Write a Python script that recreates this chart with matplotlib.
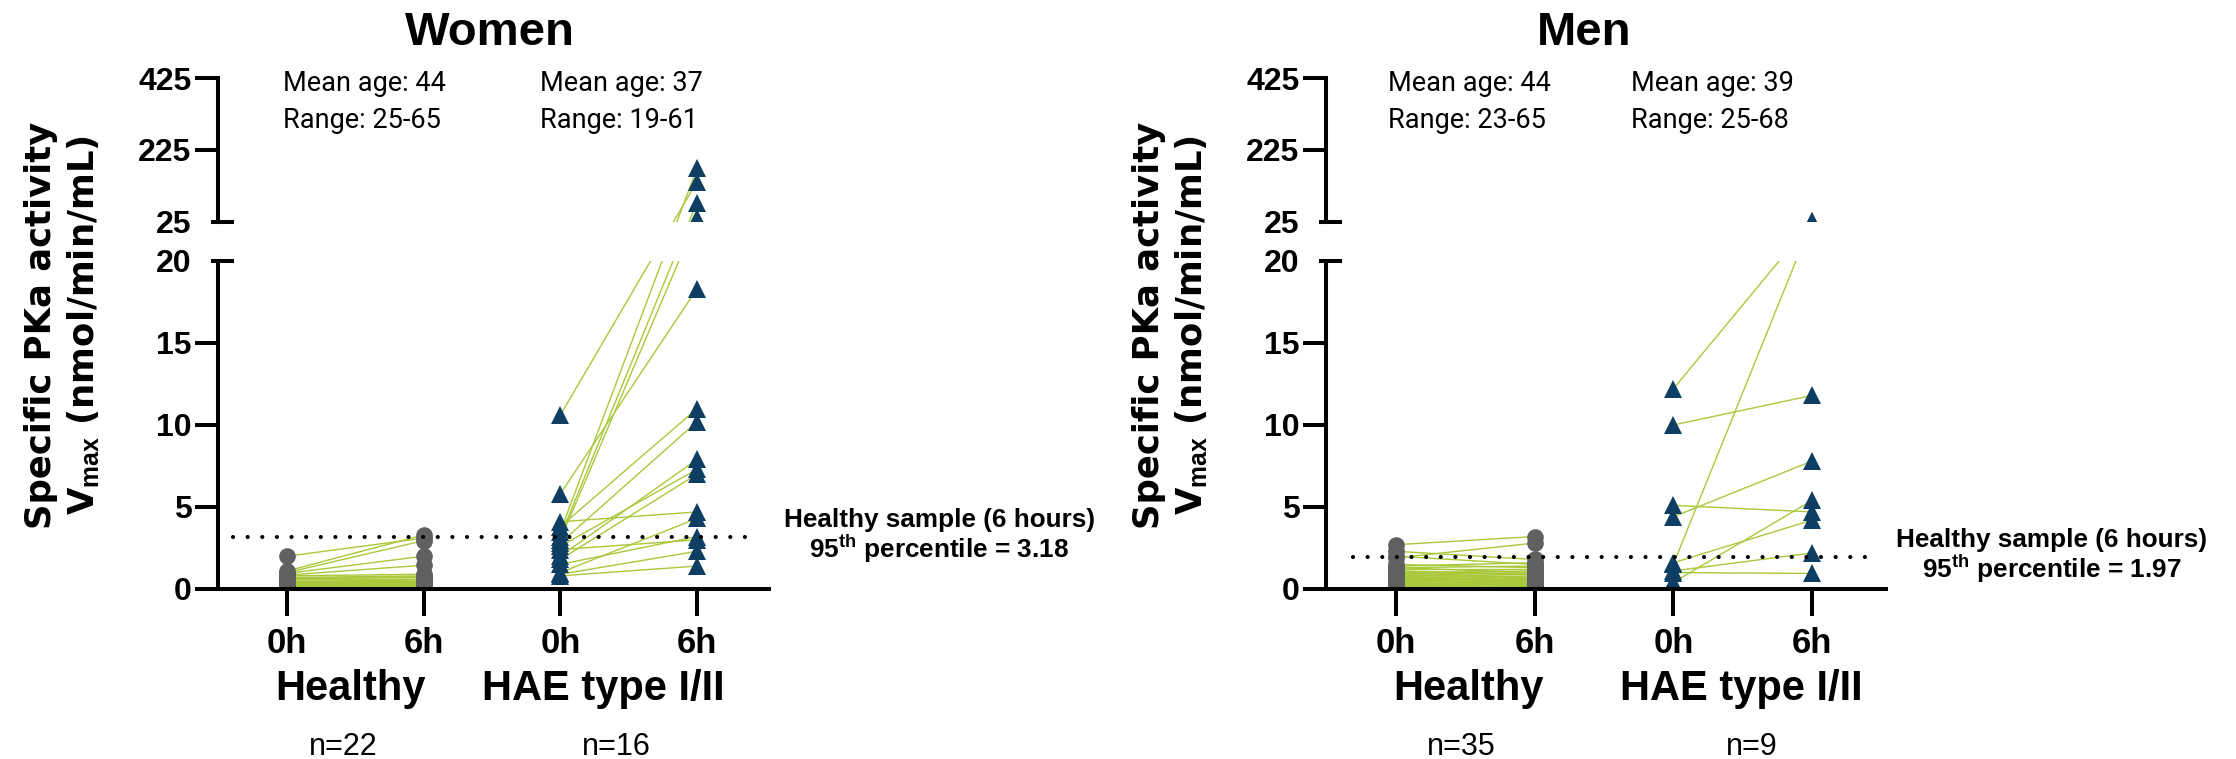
import numpy as np
import matplotlib
matplotlib.use("Agg")
import matplotlib.pyplot as plt
from matplotlib.ticker import NullLocator
from matplotlib.transforms import blended_transform_factory

plt.rcParams['font.family'] = 'Liberation Sans'
plt.rcParams['mathtext.fontset'] = 'custom'
plt.rcParams['mathtext.rm'] = 'Liberation Sans:bold'
plt.rcParams['mathtext.it'] = 'Liberation Sans:bold'
plt.rcParams['mathtext.bf'] = 'Liberation Sans:bold'

# ---- data ----
tick_labels = ['0h', '6h', '0h', '6h']
groups = ['Healthy', 'HAE type I/II']

# Women
w_healthy_0h = [2.0, 1.1, 1.0, 0.95, 0.85, 0.8, 0.7, 0.65, 0.6, 0.55, 0.5,
                0.45, 0.4, 0.35, 0.3, 0.3, 0.25, 0.2, 0.2, 0.15, 0.1, 0.1]
w_healthy_6h = [3.1, 3.3, 2.95, 2.0, 1.45, 0.9, 0.8, 0.7, 0.75, 0.6, 0.5,
                0.55, 0.4, 0.45, 0.3, 0.35, 0.2, 0.25, 0.15, 0.2, 0.1, 0.15]
w_hae_0h = [10.6, 5.8, 4.1, 3.8, 3.5, 3.2, 3.0, 2.8, 2.6, 2.4, 2.0, 1.8,
            1.5, 1.0, 0.9, 0.8]
w_hae_6h = [137, 18.3, 4.7, 11.0, 174, 79, 35, 10.2, 7.3, 3.0, 7.9, 7.0,
            3.2, 4.3, 2.3, 1.4]
w_p95 = 3.18
w_age = [('Mean age: 44', 'Range: 25-65'), ('Mean age: 37', 'Range: 19-61')]
w_n = ['n=22', 'n=16']

# Men
m_healthy_0h = [2.7, 1.9, 2.0, 2.3, 1.5, 1.4, 1.3, 1.3, 1.2, 1.1, 1.0, 1.0,
                0.9, 0.9, 0.8, 0.8, 0.7, 0.7, 0.6, 0.6, 0.5, 0.5, 0.5, 0.4,
                0.4, 0.35, 0.3, 0.3, 0.25, 0.2, 0.2, 0.15, 0.1, 0.1, 0.05]
m_healthy_6h = [3.2, 2.8, 1.5, 1.8, 1.3, 1.6, 1.0, 1.4, 1.2, 0.9, 1.1, 0.7,
                1.0, 0.6, 0.9, 0.5, 0.8, 0.4, 0.7, 0.5, 0.6, 0.3, 0.4, 0.5,
                0.2, 0.3, 0.4, 0.1, 0.3, 0.2, 0.1, 0.2, 0.15, 0.05, 0.1]
m_hae_0h = [12.2, 10.0, 5.1, 4.4, 1.6, 1.1, 1.0, 0.4, 1.5]
m_hae_6h = [27, 11.8, 4.7, 7.8, 4.2, 2.2, 0.95, 5.4, 27]
m_p95 = 1.97
m_age = [('Mean age: 44', 'Range: 23-65'), ('Mean age: 39', 'Range: 25-68')]
m_n = ['n=35', 'n=9']

yticks = [0, 5, 10, 15, 20, 25, 225, 425]

# broken y axis: 0-20 linear, 20-25 gap, 25-425 compressed
KG = 0.4756
KU = 0.02195
TOP = 20 + 5 * KG


def fwd(y):
    y = np.asarray(y, dtype=float)
    return np.where(y <= 20, y,
                    np.where(y <= 25, 20 + (y - 20) * KG, TOP + (y - 25) * KU))


def inv(t):
    t = np.asarray(t, dtype=float)
    return np.where(t <= 20, t,
                    np.where(t <= TOP, 20 + (t - 20) / KG, 25 + (t - TOP) / KU))


W, H = 2236, 759
GREEN = '#a9c83a'
GREY = '#606060'
NAVY = '#0f3e63'
LW = 2.9


def fx(px):
    return px / W


def fy(py):
    return 1 - py / H


fig = plt.figure(figsize=(W / 100, H / 100), dpi=100)


def panel(left, width, xlim, h0, h6, a0, a6, p95, dot_x, title, title_x,
          age, age_x, group_x, n_lab, n_x, ann_x, ann_dy):
    ax = fig.add_axes([fx(left), fy(589), fx(width), 511 / H])
    ax.set_yscale('function', functions=(fwd, inv))
    ax.set_ylim(0, 425)
    ax.set_xlim(*xlim)

    # paired lines
    ax.plot([1, 2], np.vstack([h0, h6]), color=GREEN, lw=1.0, zorder=2)
    ax.plot([3, 4], np.vstack([a0, a6]), color=GREEN, lw=1.0, zorder=2)
    # points
    ax.plot(np.full(len(h0), 1), h0, 'o', color=GREY, ms=12, mew=0, zorder=3)
    ax.plot(np.full(len(h6), 2), h6, 'o', color=GREY, ms=12, mew=0, zorder=3)
    ax.plot(np.full(len(a0), 3), a0, '^', color=NAVY, ms=12.5, mew=0, zorder=3)
    ax.plot(np.full(len(a6), 4), a6, '^', color=NAVY, ms=12.5, mew=0, zorder=3)

    # gap of the broken axis
    ax.axhspan(20, 25, color='white', lw=0, zorder=4)

    # 95th percentile line
    ax.plot(dot_x, [p95, p95], color='black', lw=3,
            linestyle=(0, (0.01, 3.5)), dash_capstyle='round', zorder=5)

    # axes styling
    for s in ['top', 'right', 'left']:
        ax.spines[s].set_visible(False)
    ax.spines['bottom'].set_linewidth(LW)
    ax.spines['bottom'].set_zorder(6)
    ax.set_xticks([1, 2, 3, 4], tick_labels, fontsize=25, fontweight='bold')
    ax.tick_params(axis='x', length=19.5, width=LW, pad=8)
    ax.set_yticks(yticks, [str(v) for v in yticks], fontsize=23,
                  fontweight='bold')
    ax.yaxis.set_minor_locator(NullLocator())
    ax.tick_params(axis='y', length=16.5, width=LW, pad=2.5)
    for t, v in zip(ax.yaxis.get_major_ticks(), yticks):
        if v in (20, 25):
            t.tick1line.set_visible(False)

    trans = blended_transform_factory(ax.transAxes, ax.transData)
    ax.plot([0, 0], [0, 20], color='black', lw=LW, transform=trans,
            clip_on=False, zorder=6)
    ax.plot([0, 0], [25, 425], color='black', lw=LW, transform=trans,
            clip_on=False, zorder=6)
    for v in (20, 25):
        ax.plot([-5 / width, 14 / width], [v, v], color='black', lw=LW,
                transform=trans, clip_on=False, zorder=6)

    # texts
    fig.text(fx(title_x), fy(45), title, fontsize=34, fontweight='bold',
             ha='center', va='baseline')
    for (l1, l2), x in zip(age, age_x):
        fig.text(fx(x), fy(91), l1, fontsize=19.5, ha='left', va='baseline',
                 family='Roboto')
        fig.text(fx(x), fy(128), l2, fontsize=19.5, ha='left', va='baseline',
                 family='Roboto')
    for g, x in zip(groups, group_x):
        fig.text(fx(x), fy(700), g, fontsize=30, fontweight='bold',
                 ha='center', va='baseline')
    for n, x in zip(n_lab, n_x):
        fig.text(fx(x), fy(755), n, fontsize=22, ha='center', va='baseline')
    fig.text(fx(ann_x), fy(527 + ann_dy), 'Healthy sample (6 hours)',
             fontsize=18.8, fontweight='bold', ha='center', va='baseline')
    fig.text(fx(ann_x), fy(558 + ann_dy),
             '95$^{\\mathrm{th}}$ percentile = ' + str(p95),
             fontsize=18.8, fontweight='bold', ha='center', va='baseline')
    fig.text(fx(left - 155), fy(325),
             'Specific PKa activity\nV$_{\\mathrm{max}}$ (nmol/min/mL)',
             rotation=90, ha='center', va='center', fontsize=25.5,
             fontweight='bold', family='DejaVu Sans', linespacing=1.25,
             multialignment='center')
    return ax


panel(218, 551, (0.495, 4.527), w_healthy_0h, w_healthy_6h, w_hae_0h,
      w_hae_6h, w_p95, [0.606, 4.39], 'Women', 490, w_age, [283, 540],
      [350, 603], w_n, [343, 616], 939, 0)
panel(1326, 560, (0.495, 4.534), m_healthy_0h, m_healthy_6h, m_hae_0h,
      m_hae_6h, m_p95, [0.69, 4.45], 'Men', 1584, m_age, [1388, 1631],
      [1468, 1741], m_n, [1461, 1752], 2052, 20)

fig.savefig('out.png', dpi=100)
